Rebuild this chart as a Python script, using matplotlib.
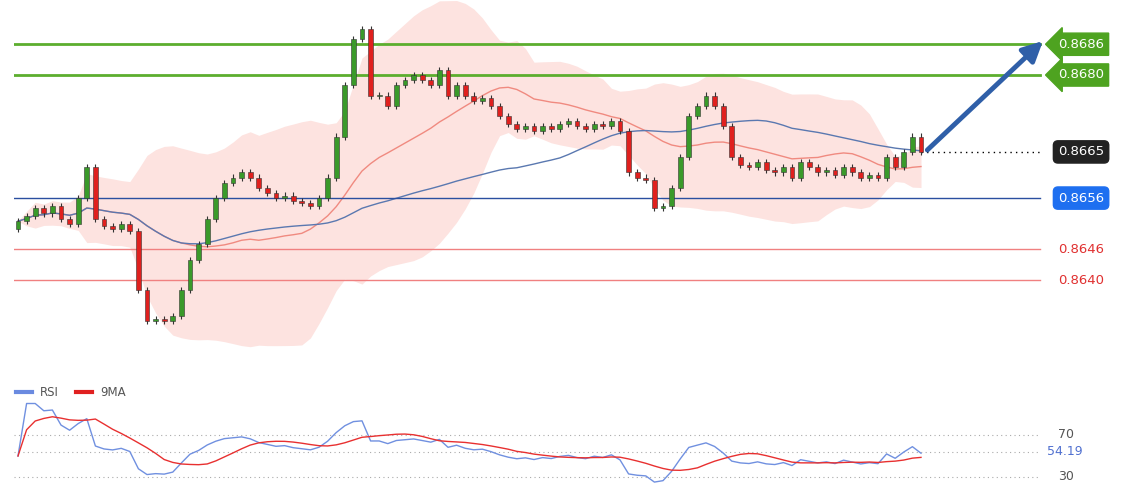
import matplotlib
matplotlib.use("Agg")
import matplotlib.pyplot as plt
from matplotlib.patches import Rectangle
import numpy as np
import pandas as pd

closes = [0.86515,0.86525,0.86540,0.86530,0.86545,0.86520,0.86510,
          0.86560,0.86620,
          0.86520,0.86505,0.86500,0.86510,0.86495,
          0.86380,
          0.86320,0.86325,0.86320,0.86330,
          0.86380,0.86440,0.86470,0.86520,0.86560,
          0.86590,0.86600,0.86610,0.86600,
          0.86580,0.86570,0.86560,0.86565,0.86555,0.86550,
          0.86545,0.86560,
          0.86600,0.86680,0.86780,0.86870,
          0.86890,0.86760,
          0.86760,0.86740,0.86780,0.86790,0.86800,
          0.86790,0.86780,0.86810,0.86760,0.86780,
          0.86760,0.86750,0.86755,0.86740,0.86720,
          0.86705,0.86695,0.86700,0.86690,0.86700,0.86695,0.86705,0.86710,0.86700,0.86695,0.86705,0.86700,0.86710,
          0.86690,0.86610,0.86600,0.86595,
          0.86540,0.86545,0.86580,
          0.86640,0.86720,0.86740,0.86760,
          0.86740,0.86700,
          0.86640,0.86625,0.86620,0.86630,0.86615,0.86610,0.86620,0.86600,0.86630,0.86620,0.86610,0.86615,0.86605,0.86620,0.86610,0.86600,0.86605,0.86600,
          0.86640,0.86620,0.86650,0.86680,0.86650]
first_open = 0.86500
levels_green = [0.8686, 0.8680]
level_blue = 0.8656
levels_red = [0.8646, 0.8640]
current = 0.8665
rsi_last = "54.19"

c = np.array(closes)
o = np.concatenate([[first_open], c[:-1]])
hi = np.maximum(o, c) + 0.00006
lo = np.minimum(o, c) - 0.00006
n = len(c)
x = np.arange(n)

W, H = 1140, 500
fig = plt.figure(figsize=(W/100, H/100), dpi=100)
def px(l, t, r, b):
    return [l/W, 1-b/H, (r-l)/W, (b-t)/H]

sp = 8.6
x0 = (14-18)/sp
x1 = (1140-18)/sp
ax = fig.add_axes(px(14, 0, 1140, 380))
ax.set_xlim(x0, x1)
ax.set_ylim(0.8680-305*0.0000195, 0.8680+75*0.0000195)
ax.axis("off")

s = pd.Series(c)
ma20 = s.rolling(20, min_periods=1).mean()
sd = s.rolling(20, min_periods=2).std().fillna(0)
ma50 = s.rolling(50, min_periods=1).mean()
ax.fill_between(x, ma20-2*sd, ma20+2*sd, color="#fde3e0", lw=0)
ax.plot(x, ma20, color="#f08a80", lw=1)
ax.plot(x, ma50, color="#5a78b0", lw=1)

for lv in levels_green:
    ax.axhline(lv, color="#5cae2e", lw=2, xmax=(1040-14)/(1126))
ax.axhline(level_blue, color="#2a4fa0", lw=1, xmax=(1040-14)/1126)
for lv in levels_red:
    ax.axhline(lv, color="#f08080", lw=1, xmax=(1040-14)/1126)
ax.plot([n-1, (1040-18)/sp], [current, current], color="black", lw=1, ls=(0, (1, 3)))

for i in range(n):
    col = "#3a9a2a" if c[i] >= o[i] else "#e0201e"
    ax.vlines(i, lo[i], hi[i], color="#333333", lw=0.8, zorder=3)
    ax.add_patch(Rectangle((i-0.28, min(o[i], c[i])), 0.56, max(abs(c[i]-o[i]), 0.000015),
                           facecolor=col, edgecolor="#333333", lw=0.4, zorder=4))

ax.annotate("", xy=((1045-18)/sp, 0.8687), xytext=(n-0.5, current),
            arrowprops=dict(arrowstyle="-|>,head_length=1.2,head_width=0.6", color="#2f5fa8", lw=3.5))

lx = (1058-18)/sp
for lv in levels_green:
    ax.text(lx, lv, f"{lv:.4f}", color="white", fontsize=9.5, va="center",
            bbox=dict(boxstyle="larrow,pad=0.35", fc="#4ea320", ec="#4ea320"))
ax.text(lx, current, f"{current:.4f}", color="white", fontsize=9.5, va="center",
        bbox=dict(boxstyle="round,pad=0.35", fc="#222222", ec="#222222"))
ax.text(lx, level_blue, f"{level_blue:.4f}", color="white", fontsize=9.5, va="center",
        bbox=dict(boxstyle="round,pad=0.35", fc="#1e6ff0", ec="#1e6ff0"))
for lv in levels_red:
    ax.text(lx, lv, f"{lv:.4f}", color="#e03030", fontsize=9.5, va="center")

# RSI
d = s.diff()
up = d.clip(lower=0).ewm(alpha=1/14, adjust=False).mean()
dn = (-d.clip(upper=0)).ewm(alpha=1/14, adjust=False).mean()
rsi = (100 - 100/(1+up/dn.replace(0, 1e-9))).fillna(50)
rma = rsi.rolling(9, min_periods=1).mean()
ar = fig.add_axes(px(14, 400, 1140, 490))
ar.set_xlim(x0, x1)
ar.set_ylim(30-13/1.05, 70+35/1.05)
ar.axis("off")
for lv in [70, 30, 54.19]:
    ar.plot([x0, (1040-18)/sp], [lv, lv], color="#aaaaaa", lw=0.8, ls=(0, (1, 3)))
ar.plot(x, rsi, color="#7090e0", lw=1)
ar.plot(x, rma, color="#e83030", lw=1)
ar.text(lx, 70, "70", color="#555555", fontsize=9, va="center")
ar.text(lx, 30, "30", color="#555555", fontsize=9, va="center")
ar.text((1047-18)/sp, 54.19, rsi_last, color="#5070d0", fontsize=9, va="center")

fig.lines.append(plt.Line2D([16/W, 32/W], [1-392/H]*2, color="#6a8ae0", lw=3, transform=fig.transFigure))
fig.text(40/W, 1-392/H, "RSI", fontsize=8.5, color="#555555", va="center")
fig.lines.append(plt.Line2D([76/W, 92/W], [1-392/H]*2, color="#e02020", lw=3, transform=fig.transFigure))
fig.text(100/W, 1-392/H, "9MA", fontsize=8.5, color="#555555", va="center")

fig.savefig("out.png", dpi=100, facecolor="white")
